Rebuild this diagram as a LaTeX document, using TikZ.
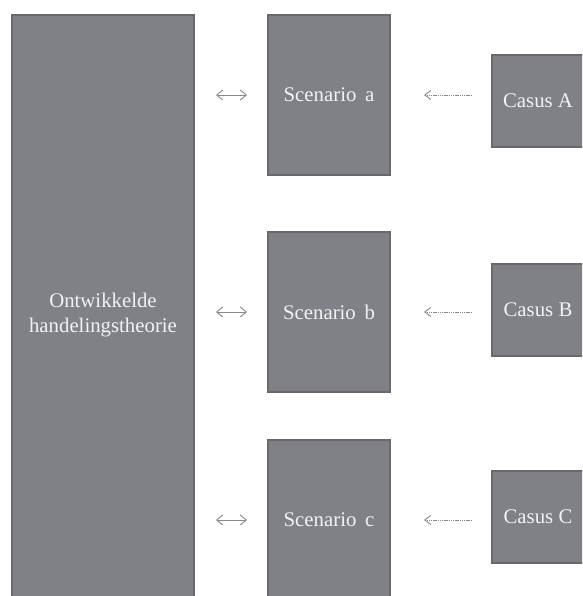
\documentclass[tikz,border=0pt]{standalone}
\usepackage{fontspec}
\setmainfont{Liberation Serif}
\usetikzlibrary{arrows.meta}
\definecolor{boxfill}{RGB}{128,129,134}
\definecolor{boxline}{RGB}{104,105,110}
\definecolor{boxtext}{RGB}{242,242,242}
\definecolor{arrowgray}{RGB}{135,135,135}
\tikzset{
  gbox/.style={draw=boxline, fill=boxfill, line width=2pt, text=boxtext,
    inner sep=0pt, align=center, font=\fontsize{20.8}{25}\selectfont},
  dbl/.style={draw=arrowgray, line width=0.9pt,
    {Straight Barb[length=6pt,width=10pt]}-{Straight Barb[length=6pt,width=10pt]}},
  dotarrow/.style={draw=arrowgray, line width=0.9pt, dash pattern=on 1.4pt off 0.8pt,
    -{Straight Barb[length=6pt,width=9pt]}},
}
\begin{document}
\begin{tikzpicture}[x=1pt,y=-1pt]
\useasboundingbox (0,0) rectangle (582,596);
\clip (0,0) rectangle (582,596);
\fill[white] (0,0) rectangle (582,596);
% big box
\node[gbox, minimum width=182pt, minimum height=600pt] (big) at (103,315) {Ontwikkelde\\handelingstheorie};
% scenarios
\node[gbox, minimum width=122pt, minimum height=160pt] (sa) at (329,95) {Scenario\ \,a};
\node[gbox, minimum width=122pt, minimum height=160pt] (sb) at (329,312) {Scenario\ \,b};
\node[gbox, minimum width=122pt, minimum height=160pt] (sc) at (329,520) {Scenario\ \,c};
% casus
\node[gbox, minimum width=92pt, minimum height=92pt] (ca) at (538,101) {Casus A};
\node[gbox, minimum width=92pt, minimum height=92pt] (cb) at (538,310) {Casus B};
\node[gbox, minimum width=92pt, minimum height=92pt] (cc) at (538,517) {Casus C};
% double arrows
\draw[dbl, shorten <=21pt, shorten >=20pt] (sa.west -| big.east) -- (sa.west);
\draw[dbl, shorten <=21pt, shorten >=20pt] (sb.west -| big.east) -- (sb.west);
\draw[dbl, shorten <=21pt, shorten >=20pt] (sc.west -| big.east) -- (sc.west);
% dotted arrows
\draw[dotarrow, shorten <=19pt, shorten >=33pt] (sa.east -| ca.west) -- (sa.east);
\draw[dotarrow, shorten <=19pt, shorten >=33pt] (sb.east -| cb.west) -- (sb.east);
\draw[dotarrow, shorten <=19pt, shorten >=33pt] (sc.east -| cc.west) -- (sc.east);
\end{tikzpicture}
\end{document}
